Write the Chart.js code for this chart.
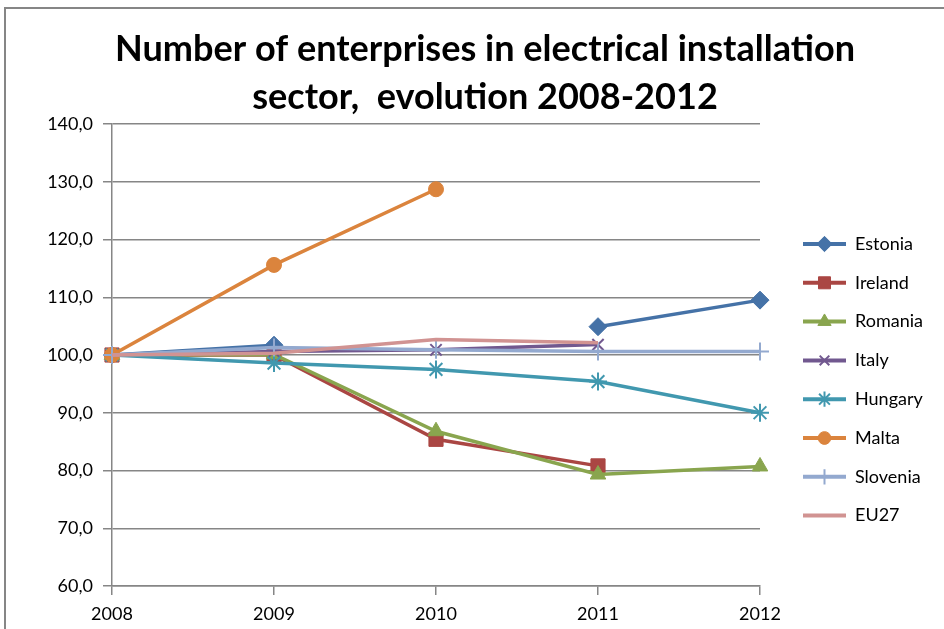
<!DOCTYPE html>
<html>
<head>
<meta charset="utf-8">
<script src="https://cdn.jsdelivr.net/npm/chart.js@4"></script>
<style>
  html, body { margin: 0; padding: 0; background: #fff; }
  #wrap { position: relative; width: 944px; height: 629px; }
</style>
</head>
<body>
<div id="wrap"><canvas id="mainchart" width="944" height="629"></canvas></div>
<script>
// values (index, 2008 = 100)
const years = ['2008', '2009', '2010', '2011', '2012'];
const estonia  = [100, 101.7, null, 104.9, 109.5];
const ireland  = [100, 100.0, 85.4, 80.8, null];
const romania  = [100, 100.1, 86.8, 79.3, 80.7];
const italy    = [100, 100.6, 100.9, 101.8, null];
const hungary  = [100, 98.6, 97.5, 95.4, 90.0];
const malta    = [100, 115.6, 128.7, null, null];
const slovenia = [100, 101.3, 100.9, 100.6, 100.6];
const eu27     = [100, 100.3, 102.7, 102.1, null];

const title_lines = ['Number of enterprises in electrical installation', 'sector,  evolution 2008-2012'];
const y_min = 60, y_max = 140, y_step = 10;

const FONT = 'Lato, "Open Sans", sans-serif';

function series(label, data, color, style, radius, bw) {
  return {
    label: label,
    data: data,
    borderColor: color,
    backgroundColor: color,
    borderWidth: 3.5,
    pointStyle: style,
    pointRadius: radius,
    pointHoverRadius: radius,
    pointBorderWidth: bw,
    pointBackgroundColor: color,
    pointBorderColor: color,
    tension: 0,
    fill: false
  };
}

const datasets = [
  series('Estonia', estonia, '#4572A7', 'rectRot', 9, 1),
  series('Ireland', ireland, '#AA4643', 'rect', 10, 1),
  series('Romania', romania, '#89A54E', 'triangle', 9, 1),
  series('Italy', italy, '#71588F', 'crossRot', 8, 2),
  series('Hungary', hungary, '#4198AF', 'star', 9, 2),
  series('Malta', malta, '#DB843D', 'circle', 7.5, 1),
  series('Slovenia', slovenia, '#93A9CF', 'cross', 9, 2),
  series('EU27', eu27, '#D19392', false, 0, 0)
];
// later series end up on top, like in the spreadsheet
datasets.forEach((d, i) => { d.order = -i; });

/* title, outer frame and legend drawn by hand */
const frame_plugin = {
  id: 'frame',
  beforeDraw(chart) {
    const c = chart.ctx;
    c.save();
    c.strokeStyle = '#868686';
    c.lineWidth = 2;
    c.strokeRect(5, 8, 1000, 700);
    c.restore();
  },
  afterDraw(chart) {
    const c = chart.ctx;
    c.save();
    // title, squeezed to the narrow look of the original
    c.fillStyle = '#000';
    c.font = 'bold 37px ' + FONT;
    c.textBaseline = 'middle';
    c.textAlign = 'center';
    const w0 = c.measureText(title_lines[0]).width;
    const sx = Math.min(1, 740 / w0);
    c.translate(485, 0);
    c.scale(sx, 1);
    c.fillText(title_lines[0], 0, 49);
    c.fillText(title_lines[1], 0, 97);
    c.restore();

    // legend
    c.save();
    chart.data.datasets.forEach((ds, i) => {
      const y = 244 + i * 38.8;
      c.strokeStyle = ds.borderColor;
      c.lineWidth = 4;
      c.beginPath();
      c.moveTo(803, y);
      c.lineTo(846, y);
      c.stroke();
      if (ds.pointStyle && Chart.helpers && Chart.helpers.drawPoint) {
        c.fillStyle = ds.pointBackgroundColor;
        c.strokeStyle = ds.pointBorderColor;
        c.lineWidth = ds.pointBorderWidth;
        Chart.helpers.drawPoint(c, {pointStyle: ds.pointStyle, radius: ds.pointRadius * 0.85, rotation: 0, borderWidth: ds.pointBorderWidth}, 824.5, y);
      }
      c.fillStyle = '#000';
      c.font = '18px ' + FONT;
      c.textAlign = 'left';
      c.textBaseline = 'middle';
      c.fillText(ds.label, 855, y);
    });
    c.restore();
  }
};

const config = {
  type: 'line',
  data: { labels: years, datasets: datasets },
  options: {
    responsive: false,
    devicePixelRatio: 1,
    animation: false,
    layout: { padding: { left: 0, top: 124, right: 184, bottom: 0 } },
    plugins: {
      title: { display: false },
      legend: { display: false },
      tooltip: { enabled: false }
    },
    scales: {
      x: {
        offset: false,
        grid: {
          drawOnChartArea: false,
          drawTicks: true,
          tickLength: 9,
          color: '#868686',
          lineWidth: 1.5
        },
        border: { color: '#868686', width: 1.5 },
        ticks: {
          color: '#000',
          font: { family: FONT, size: 18 },
          padding: 8,
          maxRotation: 0
        },
        afterFit(scale) { scale.height = 43; }
      },
      y: {
        min: y_min,
        max: y_max,
        grid: {
          color: '#868686',
          lineWidth: 1.5,
          tickLength: 9
        },
        border: { color: '#868686', width: 1.5 },
        ticks: {
          stepSize: y_step,
          color: '#000',
          font: { family: FONT, size: 18 },
          padding: 10,
          callback: (v) => v.toFixed(1).replace('.', ',')
        },
        afterFit(scale) { scale.width = 112; }
      }
    }
  },
  plugins: [frame_plugin]
};

const mainchart = new Chart(document.getElementById('mainchart'), config);
</script>
</body>
</html>
